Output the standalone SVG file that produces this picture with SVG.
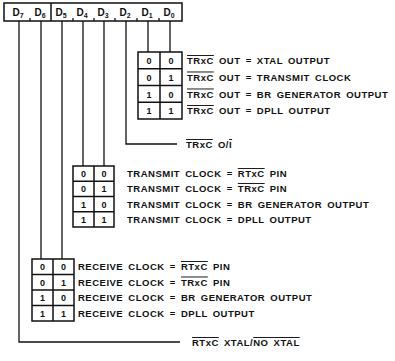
<svg xmlns="http://www.w3.org/2000/svg" width="395" height="361" viewBox="0 0 395 361">
<style>
.t{font-family:"Liberation Sans",Arial,sans-serif;font-weight:bold;font-size:9.5px;letter-spacing:0.5px;word-spacing:2px;fill:#111}
.d{font-family:"Liberation Sans",Arial,sans-serif;font-weight:bold;font-size:9px;fill:#111;text-anchor:middle}
.h{font-family:"Liberation Sans",Arial,sans-serif;font-weight:bold;font-size:10px;fill:#111;text-anchor:middle}
.o{text-decoration:overline}
.ln{fill:none;stroke:#111;stroke-width:1.3}
.bx{fill:none;stroke:#111;stroke-width:1.5}
</style>
<rect width="395" height="361" fill="#fff"/>
<g id="register">
<rect class="bx" x="4" y="3" width="178" height="18"/>
<line class="bx" x1="51" y1="3" x2="51" y2="21"/>
<path class="ln" d="M30 18V21M73 18V21M94 18V21M115 18V21M137 18V21M159 18V21"/>
<text class="h" x="18" y="16">D<tspan dy="2" font-size="7">7</tspan></text>
<text class="h" x="40" y="16">D<tspan dy="2" font-size="7">6</tspan></text>
<text class="h" x="61" y="16">D<tspan dy="2" font-size="7">5</tspan></text>
<text class="h" x="82" y="16">D<tspan dy="2" font-size="7">4</tspan></text>
<text class="h" x="103" y="16">D<tspan dy="2" font-size="7">3</tspan></text>
<text class="h" x="125" y="16">D<tspan dy="2" font-size="7">2</tspan></text>
<text class="h" x="147" y="16">D<tspan dy="2" font-size="7">1</tspan></text>
<text class="h" x="169" y="16">D<tspan dy="2" font-size="7">0</tspan></text>
</g>
<g id="connectors">
<path class="ln" d="M19 21V342H180"/>
<path class="ln" d="M41 21V259"/>
<path class="ln" d="M62 21V259"/>
<path class="ln" d="M83 21V166"/>
<path class="ln" d="M104 21V166"/>
<path class="ln" d="M126 21V144H177"/>
<path class="ln" d="M148 21V52"/>
<path class="ln" d="M170 21V52"/>
</g>
<g id="trxc-out-table">
<rect class="bx" x="138" y="52" width="44" height="67"/>
<path class="bx" d="M160 52V119M138 68.75H182M138 85.5H182M138 102.25H182"/>
<text class="d" x="149" y="64">0</text><text class="d" x="171" y="64">0</text>
<text class="d" x="149" y="80.5">0</text><text class="d" x="171" y="80.5">1</text>
<text class="d" x="149" y="97.5">1</text><text class="d" x="171" y="97.5">0</text>
<text class="d" x="149" y="114">1</text><text class="d" x="171" y="114">1</text>
<text class="t" x="187" y="64"><tspan class="o">TRxC</tspan> OUT = XTAL OUTPUT</text>
<text class="t" x="187" y="80.5"><tspan class="o">TRxC</tspan> OUT = TRANSMIT CLOCK</text>
<text class="t" x="187" y="97.5"><tspan class="o">TRxC</tspan> OUT = BR GENERATOR OUTPUT</text>
<text class="t" x="187" y="114"><tspan class="o">TRxC</tspan> OUT = DPLL OUTPUT</text>
</g>
<g id="trxc-oi">
<text class="t" x="186" y="148"><tspan class="o">TRxC</tspan> O/<tspan class="o">I</tspan></text>
</g>
<g id="transmit-table">
<rect class="bx" x="73" y="166" width="41" height="61"/>
<path class="bx" d="M94 166V227M73 181.25H114M73 196.5H114M73 211.75H114"/>
<text class="d" x="83.5" y="177">0</text><text class="d" x="104" y="177">0</text>
<text class="d" x="83.5" y="192">0</text><text class="d" x="104" y="192">1</text>
<text class="d" x="83.5" y="207.5">1</text><text class="d" x="104" y="207.5">0</text>
<text class="d" x="83.5" y="222.5">1</text><text class="d" x="104" y="222.5">1</text>
<text class="t" x="127" y="177">TRANSMIT CLOCK = <tspan class="o">RTxC</tspan> PIN</text>
<text class="t" x="127" y="192">TRANSMIT CLOCK = <tspan class="o">TRxC</tspan> PIN</text>
<text class="t" x="127" y="207.5">TRANSMIT CLOCK = BR GENERATOR OUTPUT</text>
<text class="t" x="127" y="222.5">TRANSMIT CLOCK = DPLL OUTPUT</text>
</g>
<g id="receive-table">
<rect class="bx" x="32" y="259" width="42" height="62"/>
<path class="bx" d="M53 259V321M32 274.5H74M32 290H74M32 305.5H74"/>
<text class="d" x="42.5" y="270">0</text><text class="d" x="63.5" y="270">0</text>
<text class="d" x="42.5" y="285.5">0</text><text class="d" x="63.5" y="285.5">1</text>
<text class="d" x="42.5" y="301">1</text><text class="d" x="63.5" y="301">0</text>
<text class="d" x="42.5" y="316.5">1</text><text class="d" x="63.5" y="316.5">1</text>
<text class="t" x="78" y="270">RECEIVE CLOCK = <tspan class="o">RTxC</tspan> PIN</text>
<text class="t" x="78" y="285.5">RECEIVE CLOCK = <tspan class="o">TRxC</tspan> PIN</text>
<text class="t" x="78" y="301">RECEIVE CLOCK = BR GENERATOR OUTPUT</text>
<text class="t" x="78" y="316.5">RECEIVE CLOCK = DPLL OUTPUT</text>
</g>
<g id="xtal">
<text class="t" x="192" y="346"><tspan class="o">RTxC</tspan> XTAL/<tspan class="o">NO XTAL</tspan></text>
</g>
</svg>
